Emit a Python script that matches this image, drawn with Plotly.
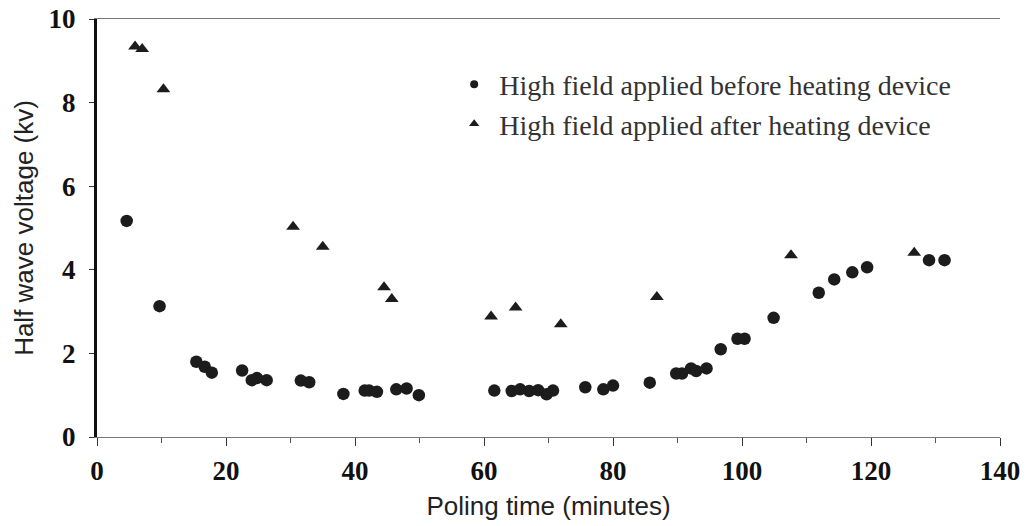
import plotly.graph_objects as go

# Data
before_x = [4.6, 9.7, 15.4, 16.7, 17.8, 22.5, 24.0, 24.8, 26.3, 31.6, 32.9, 38.2,
            41.5, 42.2, 43.4, 46.4, 48.0, 49.9, 61.6, 64.3, 65.6, 67.0, 68.4, 69.7,
            70.7, 75.7, 78.5, 80.0, 85.7, 89.8, 90.7, 92.1, 92.9, 94.5, 96.7, 99.3,
            100.4, 104.9, 111.9, 114.3, 117.1, 119.4, 129.0, 131.4]
before_y = [5.17, 3.13, 1.80, 1.68, 1.54, 1.59, 1.36, 1.41, 1.36, 1.35, 1.31, 1.03,
            1.11, 1.11, 1.08, 1.14, 1.16, 1.00, 1.11, 1.10, 1.14, 1.10, 1.12, 1.02,
            1.11, 1.19, 1.14, 1.23, 1.30, 1.52, 1.52, 1.64, 1.58, 1.64, 2.10, 2.35,
            2.35, 2.85, 3.45, 3.77, 3.94, 4.06, 4.23, 4.23]

after_x = [5.9, 7.0, 10.3, 30.4, 35.0, 44.5, 45.7, 61.1, 64.9, 71.9, 86.8, 107.6, 126.7]
after_y = [9.34, 9.28, 8.32, 5.03, 4.55, 3.58, 3.30, 2.88, 3.10, 2.70, 3.35, 4.35, 4.41]

series_names = ["High field applied before heating device",
                "High field applied after heating device"]

x_ticks = [0, 20, 40, 60, 80, 100, 120, 140]
y_ticks = [0, 2, 4, 6, 8, 10]

mark_color = "#1c1c1c"
tick_font = dict(family="Liberation Serif", size=27, color="#111111", weight="bold")
title_font = dict(family="Liberation Sans", size=26, color="#222222")

fig = go.Figure()
fig.add_trace(go.Scatter(
    x=before_x, y=before_y, mode="markers", name=series_names[0],
    showlegend=False,
    marker=dict(symbol="circle", size=12.5, color=mark_color),
))
fig.add_trace(go.Scatter(
    x=after_x, y=after_y, mode="markers", name=series_names[1],
    showlegend=False,
    marker=dict(symbol="triangle-up", size=12, color=mark_color),
))
# legend entries (smaller legend symbols, as in the reference)
fig.add_trace(go.Scatter(
    x=[None], y=[None], mode="markers", name=series_names[0], legendgroup="a",
    marker=dict(symbol="circle", size=8, color=mark_color),
))
fig.add_trace(go.Scatter(
    x=[None], y=[None], mode="markers", name=series_names[1], legendgroup="b",
    marker=dict(symbol="triangle-up", size=9, color=mark_color),
))

fig.update_layout(
    width=1031, height=526,
    margin=dict(l=97, r=31, t=19, b=89),
    paper_bgcolor="white", plot_bgcolor="white",
    showlegend=True,
    legend=dict(
        x=0.39, y=0.903, xanchor="left", yanchor="top",
        font=dict(family="Liberation Serif", size=28, color="#333333"),
        bgcolor="rgba(0,0,0,0)", itemwidth=40,
        traceorder="grouped", tracegroupgap=0,
    ),
    xaxis=dict(
        range=[0, 140], tickvals=x_ticks, ticktext=[str(v) for v in x_ticks],
        showgrid=False, zeroline=False, automargin=False,
        showline=True, linecolor="#777777", linewidth=1, mirror=True,
        ticks="outside", ticklen=8, tickwidth=1, tickcolor="#333333",
        minor=dict(dtick=10, ticks="outside", ticklen=5, tickcolor="#555555"),
        tickfont=tick_font, ticklabelstandoff=2,
        title=dict(text="Poling time (minutes)", font=title_font, standoff=11),
    ),
    yaxis=dict(
        range=[0, 10], tickvals=y_ticks, ticktext=[str(v) for v in y_ticks],
        showgrid=False, zeroline=False, automargin=False,
        showline=True, linecolor="#111111", linewidth=3,
        ticks="outside", ticklen=5, tickwidth=1, tickcolor="#333333",
        tickfont=tick_font, ticklabelstandoff=8,
        title=dict(text="Half wave voltage (kv)", font=title_font, standoff=8),
    ),
    yaxis2=dict(
        range=[0, 10], overlaying="y", side="right", automargin=False,
        showline=True, linecolor="#555555", linewidth=1,
        showticklabels=False, ticks="", showgrid=False, zeroline=False,
    ),
)

fig.write_html("out.html")
